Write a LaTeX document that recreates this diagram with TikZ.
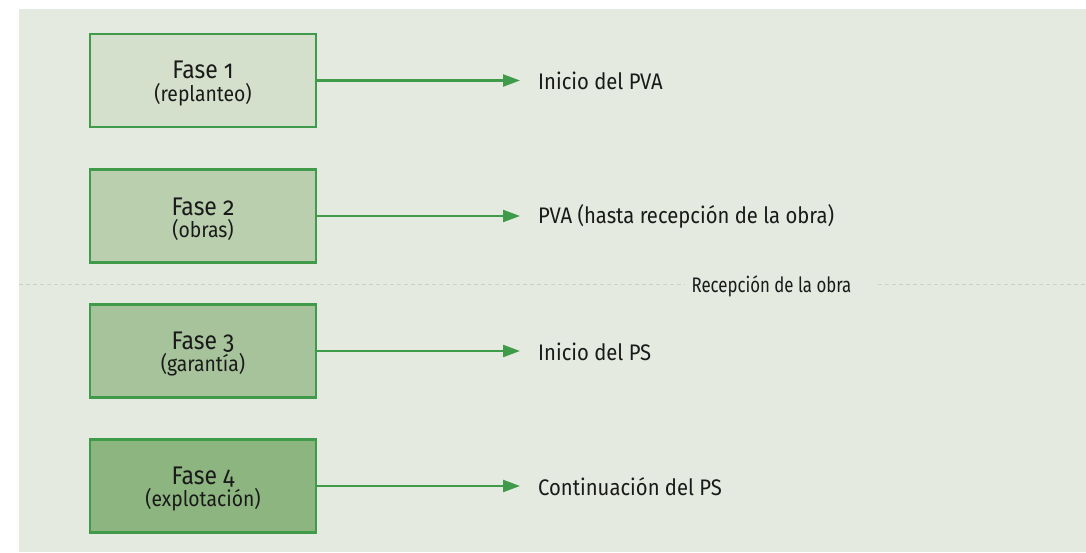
\documentclass[tikz,border=0pt]{standalone}
\usepackage{fontspec}
\setmainfont{Fira Sans}[Numbers=OldStyle,FakeStretch=0.9]
\newfontfamily\recfont{Fira Sans}[Numbers=OldStyle,FakeStretch=0.8]
\usetikzlibrary{arrows.meta}
\definecolor{bgc}{HTML}{E4EAE0}
\definecolor{edgec}{HTML}{3F9B49}
\definecolor{f1c}{HTML}{D5E0CC}
\definecolor{f2c}{HTML}{B9CFAE}
\definecolor{f3c}{HTML}{A7C39C}
\definecolor{f4c}{HTML}{8CB57F}
\definecolor{dashc}{HTML}{C8D5BC}
\definecolor{txtc}{HTML}{1A1A1A}
\tikzset{
  fase/.style={draw=edgec, line width=2.3pt, minimum width=226pt, minimum height=93pt, inner sep=0pt, text=txtc, align=center, font=\fontsize{21.5}{22.5}\selectfont},
  arr/.style={draw=edgec, line width=2.3pt, -{Triangle[length=17pt,width=12pt]}},
  lbl/.style={anchor=west, inner xsep=18pt, inner ysep=0pt, text=txtc, font=\fontsize{22.5}{26}\selectfont},
  sep/.style={draw=dashc, line width=1pt, dash pattern=on 4pt off 3pt}
}
\newcommand{\fasetxt}[2]{\rule{0pt}{24pt}{\fontsize{25.5}{22.5}\selectfont #1}\\#2}
\begin{document}
\begin{tikzpicture}[x=1pt,y=-1pt]
\useasboundingbox (0,0) rectangle (1086,553);
\fill[white] (0,0) rectangle (1086,553);
\fill[bgc] (19,9) rectangle (1086,552);
\node[fase, fill=f1c] (f1) at (203,80.5) {\fasetxt{Fase 1}{(replanteo)}};
\node[fase, fill=f2c] (f2) at (203,216) {\fasetxt{Fase 2}{(obras)}};
\node[fase, fill=f3c] (f3) at (203,351) {\fasetxt{Fase 3}{(garantía)}};
\node[fase, fill=f4c] (f4) at (203,486) {\fasetxt{Fase 4}{(explotación)}};
\node[lbl] (l1) at (520,81) {Inicio del PVA};
\node[lbl] (l2) at (520,216.5) {PVA (hasta recepción de la obra)};
\node[lbl] (l3) at (520,351.5) {Inicio del PS};
\node[lbl] (l4) at (520,486.5) {Continuación del PS};
\draw[arr] (f1.east) -- (f1.east -| l1.west);
\draw[arr] (f2.east) -- (f2.east -| l2.west);
\draw[arr] (f3.east) -- (f3.east -| l3.west);
\draw[arr] (f4.east) -- (f4.east -| l4.west);
\node[text=txtc, inner sep=0pt, font=\recfont\fontsize{21}{24}\selectfont] (rec) at (771.5,286.5) {Recepción de la obra};
\coordinate (sl) at (19,284);
\coordinate (sr) at (1086,284);
\draw[sep] (sl) -- (685,284);
\draw[sep] (878,284) -- (sr);
\end{tikzpicture}
\end{document}
